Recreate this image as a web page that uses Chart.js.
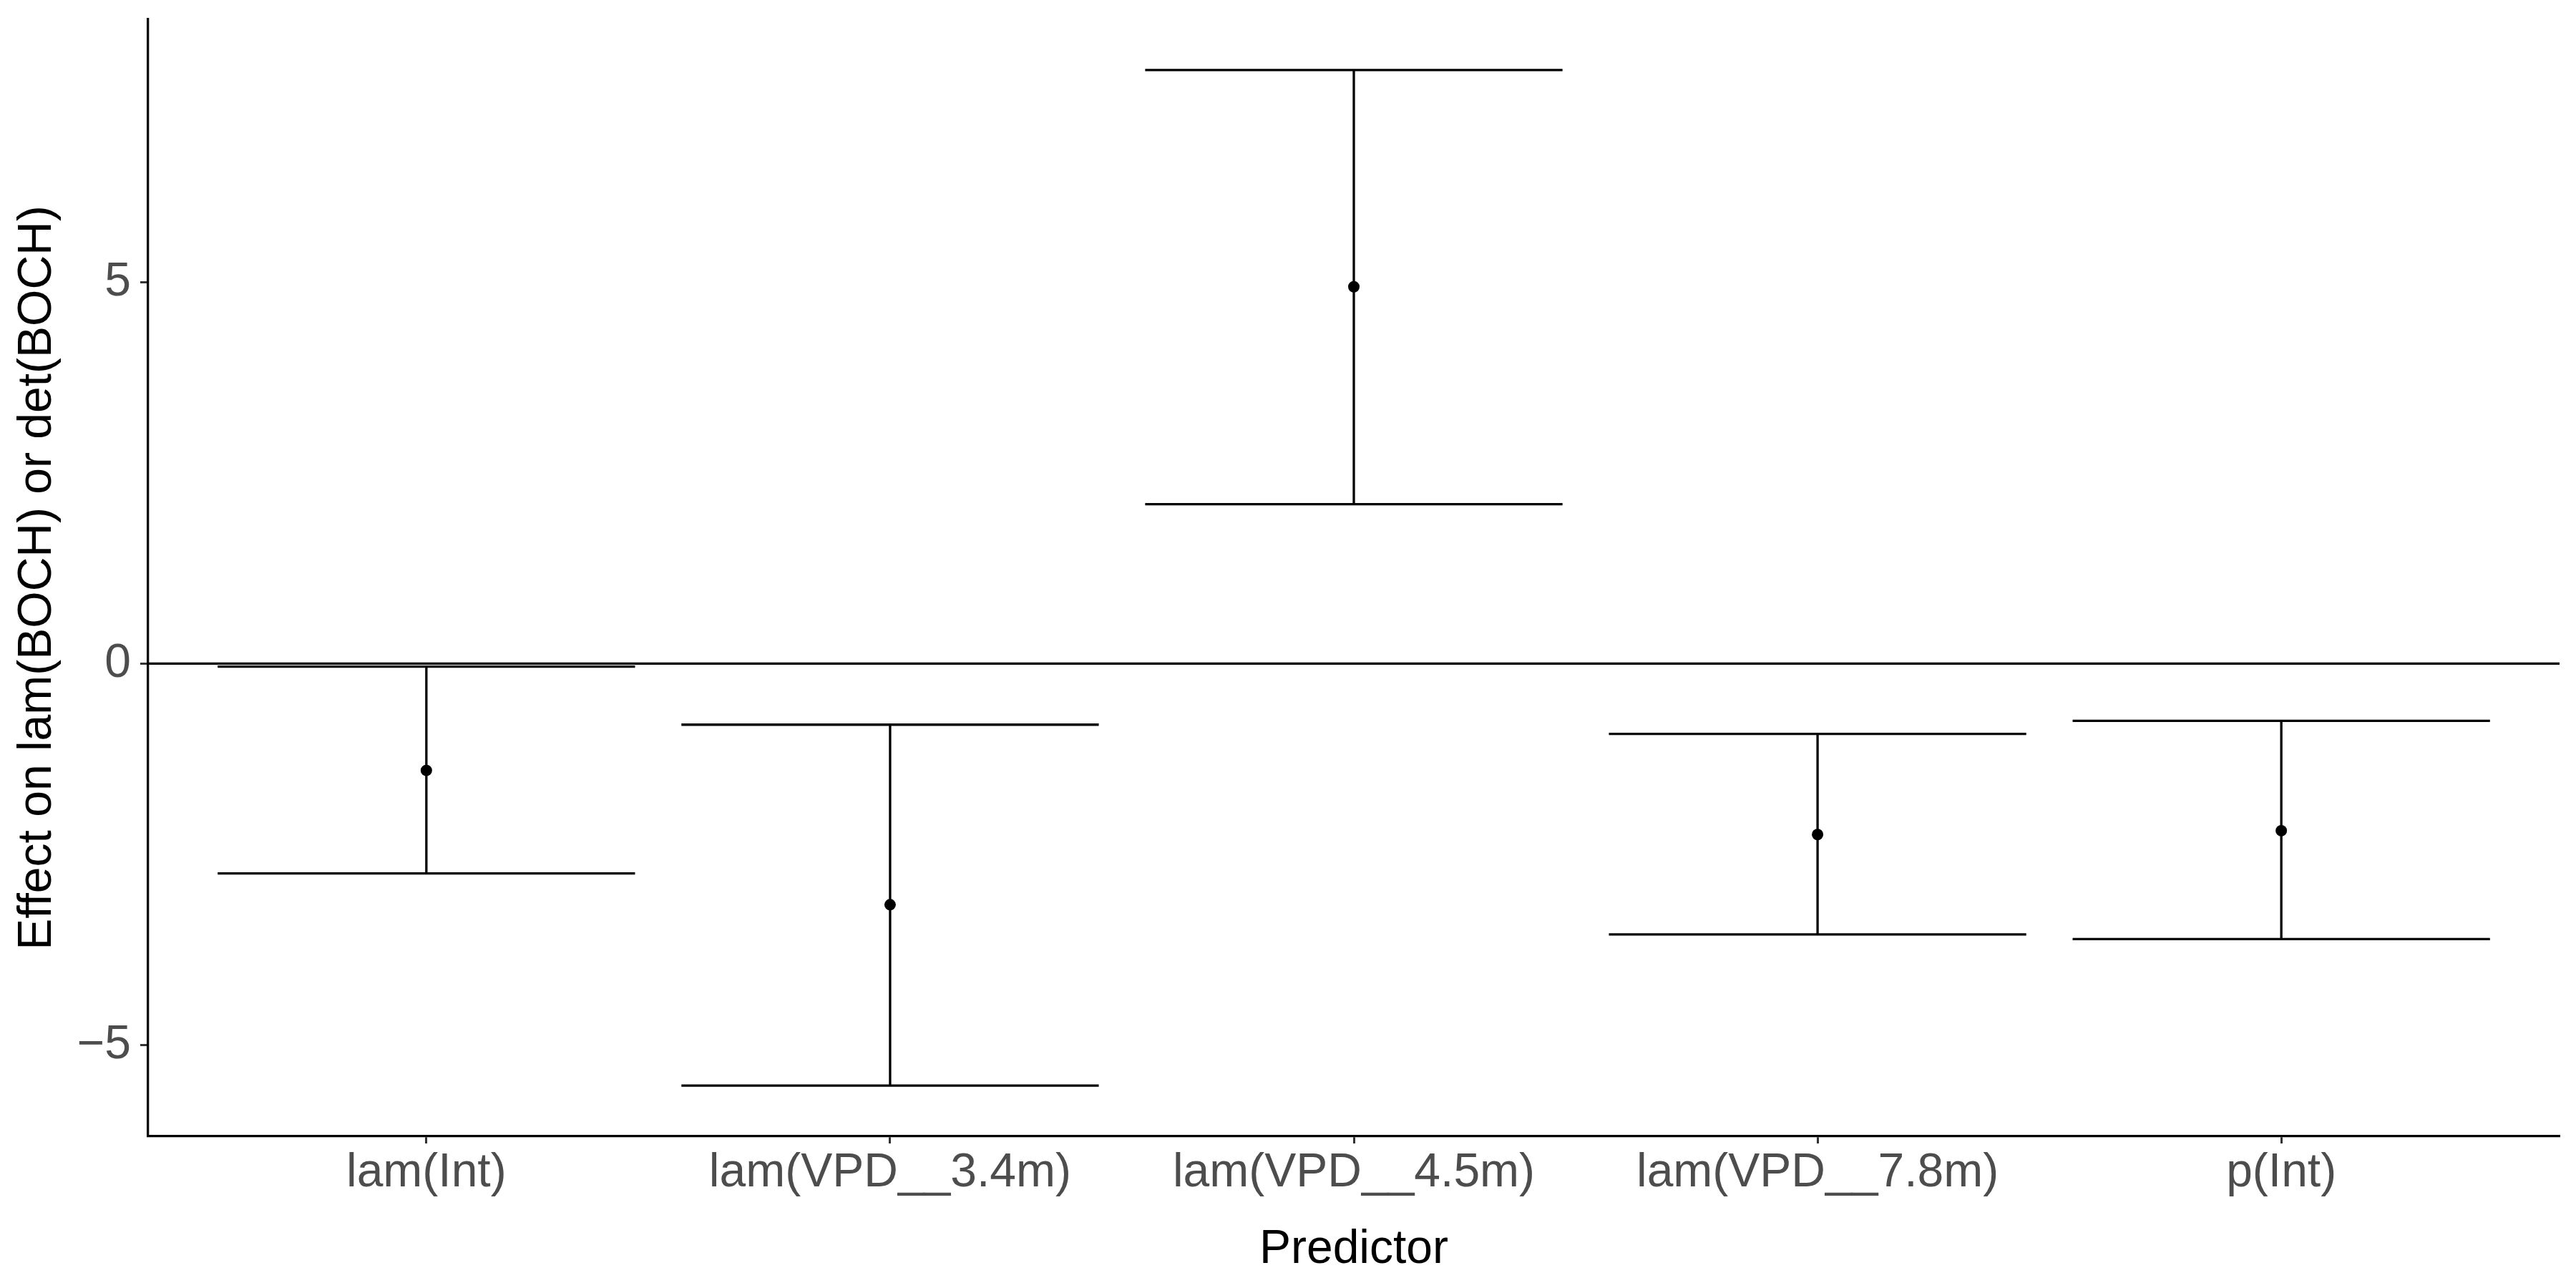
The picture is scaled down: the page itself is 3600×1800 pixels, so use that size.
<!DOCTYPE html>
<html>
<head>
<meta charset="utf-8">
<script src="https://cdn.jsdelivr.net/npm/chart.js@4.4.1/dist/chart.umd.min.js"></script>
<style>
  body { margin: 0; background: #fff; }
  canvas { display: block; }
</style>
</head>
<body>
<canvas id="myChart" width="3600" height="1800"></canvas>
<script>
// values
const predictors = ["lam(Int)", "lam(VPD__3.4m)", "lam(VPD__4.5m)", "lam(VPD__7.8m)", "p(Int)"];
const estimates = [-1.40, -3.16, 4.94, -2.24, -2.19];
const lower = [-2.75, -5.53, 2.09, -3.55, -3.61];
const upper = [-0.04, -0.80, 7.78, -0.92, -0.75];
const yTicks = [-5, 0, 5];
const refLine = 0;

const positions = predictors.map((p, i) => i + 1);
const capHalf = 0.45;

// ggplot style expansion
const dataMin = Math.min(...lower);
const dataMax = Math.max(...upper);
const span = dataMax - dataMin;
const yMin = dataMin - span * 0.05;
const yMax = dataMax + span * 0.05;
const xMin = 0.4;
const xMax = predictors.length + 0.6;

const font = "'Liberation Sans', Arial, sans-serif";

const errorBars = {
  id: "errorBars",
  beforeDatasetsDraw(chart) {
    const { ctx, scales: { x, y } } = chart;
    ctx.save();
    ctx.strokeStyle = "#000";
    ctx.lineWidth = 3.3;
    ctx.lineCap = "butt";
    positions.forEach((pos, i) => {
      const px = x.getPixelForValue(pos);
      const left = x.getPixelForValue(pos - capHalf);
      const right = x.getPixelForValue(pos + capHalf);
      const lo = y.getPixelForValue(lower[i]);
      const hi = y.getPixelForValue(upper[i]);
      ctx.beginPath();
      ctx.moveTo(px, lo);
      ctx.lineTo(px, hi);
      ctx.moveTo(left, lo);
      ctx.lineTo(right, lo);
      ctx.moveTo(left, hi);
      ctx.lineTo(right, hi);
      ctx.stroke();
    });
    ctx.restore();
  },
};

const ctx = document.getElementById("myChart").getContext("2d");
const myChart = new Chart(ctx, {
  type: "scatter",
  data: {
    datasets: [
      {
        label: "zero",
        type: "line",
        data: [{ x: xMin, y: refLine }, { x: xMax, y: refLine }],
        borderColor: "#000",
        borderWidth: 3.3,
        pointRadius: 0,
      },
      {
        label: "estimate",
        data: positions.map((pos, i) => ({ x: pos, y: estimates[i] })),
        backgroundColor: "#000",
        borderColor: "#000",
        pointRadius: 8,
        borderWidth: 0,
      },
    ],
  },
  options: {
    responsive: false,
    animation: false,
    layout: { padding: { left: 0, right: 23, top: 27, bottom: 0 } },
    plugins: {
      legend: { display: false },
      tooltip: { enabled: false },
    },
    scales: {
      x: {
        type: "linear",
        min: xMin,
        max: xMax,
        afterBuildTicks: (scale) => {
          scale.ticks = positions.map((v) => ({ value: v }));
        },
        afterFit: (scale) => {
          scale.height = 212;
          scale.paddingLeft = 0;
          scale.paddingRight = 0;
        },
        ticks: {
          autoSkip: false,
          maxRotation: 0,
          padding: 2,
          color: "#4D4D4D",
          font: { family: font, size: 66 },
          callback: (v) => predictors[v - 1],
        },
        grid: {
          drawOnChartArea: false,
          drawTicks: true,
          tickLength: 10,
          tickWidth: 3,
          color: "#333333",
        },
        border: { display: true, color: "#000", width: 3.3 },
        title: {
          display: true,
          text: "Predictor",
          color: "#000",
          font: { family: font, size: 66 },
          padding: { top: 0, bottom: 14 },
        },
      },
      y: {
        type: "linear",
        min: yMin,
        max: yMax,
        afterBuildTicks: (scale) => {
          scale.ticks = yTicks.map((v) => ({ value: v }));
        },
        afterFit: (scale) => {
          scale.width = 207;
          scale.paddingTop = 0;
          scale.paddingBottom = 0;
        },
        ticks: {
          padding: 13,
          color: "#4D4D4D",
          font: { family: font, size: 66 },
          callback: (v) => (v < 0 ? "\u2212" + Math.abs(v) : String(v)),
        },
        grid: {
          drawOnChartArea: false,
          drawTicks: true,
          tickLength: 11,
          tickWidth: 3,
          color: "#333333",
        },
        border: { display: true, color: "#000", width: 3.3 },
        title: {
          display: true,
          text: "Effect on lam(BOCH) or det(BOCH)",
          color: "#000",
          font: { family: font, size: 66 },
          padding: { top: 13, bottom: 0 },
        },
      },
    },
  },
  plugins: [errorBars],
});
</script>
</body>
</html>
